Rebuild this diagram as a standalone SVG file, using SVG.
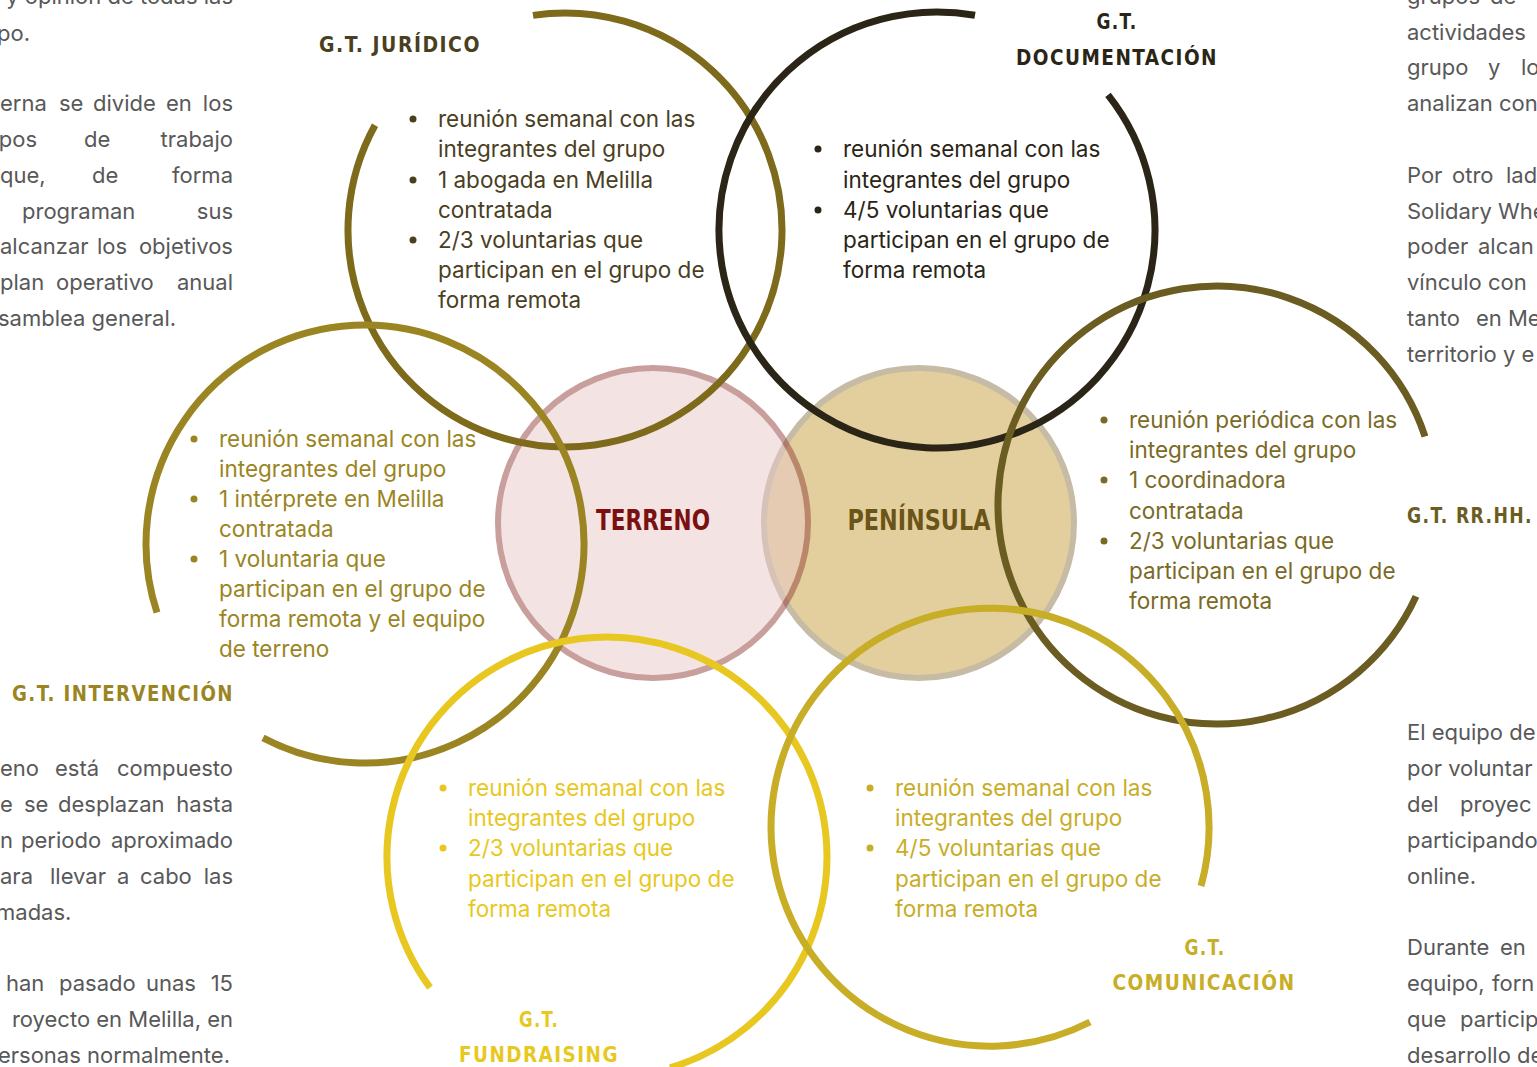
<svg xmlns="http://www.w3.org/2000/svg" width="1537" height="1067" viewBox="0 0 1537 1067">
<style>
.p{font-family:Inter,"Liberation Sans",sans-serif;font-size:22px;fill:#585858}
.e{text-anchor:end}
.b{font-family:Inter,"Liberation Sans",sans-serif;font-size:22.5px}
.t{font-family:"DejaVu Sans Condensed","Liberation Sans Narrow","Liberation Sans",sans-serif;font-weight:bold;font-size:21px;letter-spacing:1.5px}
.c{font-family:"DejaVu Sans Condensed","Liberation Sans Narrow","Liberation Sans",sans-serif;font-weight:bold;font-size:28px}
.ring{fill:none;stroke-width:7}
</style>
<rect width="1537" height="1067" fill="#ffffff"/>

<g id="left-text">
<text class="p e" x="233" y="4">y opinión de todas las</text>
<text class="p" x="-3" y="41">po.</text>
<text class="p" x="0" y="111">erna</text><text class="p" x="59" y="111">se</text><text class="p" x="93" y="111">divide</text><text class="p" x="166" y="111">en</text><text class="p e" x="233" y="111">los</text>
<text class="p e" x="37" y="147">pos</text><text class="p" x="84" y="147">de</text><text class="p e" x="233" y="147">trabajo</text>
<text class="p" x="0" y="183">que,</text><text class="p" x="92" y="183">de</text><text class="p e" x="233" y="183">forma</text>
<text class="p" x="22" y="219">programan</text><text class="p e" x="233" y="219">sus</text>
<text class="p" x="0" y="254">alcanzar</text><text class="p" x="97" y="254">los</text><text class="p e" x="233" y="254">objetivos</text>
<text class="p" x="0" y="290">plan</text><text class="p" x="56" y="290">operativo</text><text class="p e" x="233" y="290">anual</text>
<text class="p" x="-2" y="326">samblea general.</text>
<text class="p" x="0" y="776">eno</text><text class="p" x="55" y="776">está</text><text class="p e" x="233" y="776">compuesto</text>
<text class="p" x="0" y="812">e</text><text class="p" x="24" y="812">se</text><text class="p" x="58" y="812">desplazan</text><text class="p e" x="233" y="812">hasta</text>
<text class="p" x="0" y="848">n</text><text class="p" x="21" y="848">periodo</text><text class="p e" x="233" y="848">aproximado</text>
<text class="p" x="0" y="884">ara</text><text class="p" x="50" y="884">llevar</text><text class="p" x="117" y="884">a</text><text class="p" x="140" y="884">cabo</text><text class="p e" x="233" y="884">las</text>
<text class="p" x="-4" y="920">madas.</text>
<text class="p" x="6" y="991">han</text><text class="p" x="59" y="991">pasado</text><text class="p" x="146" y="991">unas</text><text class="p e" x="233" y="991">15</text>
<text class="p e" x="233" y="1027">royecto en Melilla, en</text>
<text class="p e" x="230" y="1063">ersonas normalmente.</text>
</g>

<g id="right-text">
<text class="p" x="1407" y="4">grupos</text><text class="p" x="1490" y="4">de</text>
<text class="p" x="1407" y="40">actividades</text>
<text class="p" x="1407" y="75">grupo</text><text class="p" x="1488" y="75">y</text><text class="p" x="1521" y="75">lo</text>
<text class="p" x="1407" y="111">analizan con</text>
<text class="p" x="1407" y="183">Por</text><text class="p" x="1452" y="183">otro</text><text class="p" x="1506" y="183">lad</text>
<text class="p" x="1407" y="219">Solidary Whe</text>
<text class="p" x="1407" y="254">poder</text><text class="p" x="1478" y="254">alcan</text>
<text class="p" x="1407" y="290">vínculo con</text>
<text class="p" x="1407" y="326">tanto</text><text class="p" x="1476" y="326">en</text><text class="p" x="1508" y="326">Me</text>
<text class="p" x="1407" y="362">territorio y e</text>
<text class="p" x="1407" y="740">El equipo de</text>
<text class="p" x="1407" y="776">por voluntar</text>
<text class="p" x="1407" y="812">del</text><text class="p" x="1460" y="812">proyec</text>
<text class="p" x="1407" y="848">participando</text>
<text class="p" x="1407" y="884">online.</text>
<text class="p" x="1407" y="955">Durante</text><text class="p" x="1500" y="955">en</text>
<text class="p" x="1407" y="991">equipo,</text><text class="p" x="1492" y="991">forn</text>
<text class="p" x="1407" y="1027">que</text><text class="p" x="1460" y="1027">particip</text>
<text class="p" x="1407" y="1063">desarrollo de</text>
</g>

<g id="peninsula">
<circle cx="919" cy="523" r="155" fill="#e3cf9d" stroke="#c6bba5" stroke-width="6"/>
<text class="c" x="919" y="530" text-anchor="middle" fill="#6b5418" textLength="143" lengthAdjust="spacingAndGlyphs">PENÍNSULA</text>
</g>
<g id="terreno">
<g opacity="0.5"><circle cx="653" cy="523" r="155" fill="#e9c9c9" stroke="#93413b" stroke-width="6"/></g>
<text class="c" x="653" y="530" text-anchor="middle" fill="#7a1010" textLength="114" lengthAdjust="spacingAndGlyphs">TERRENO</text>
</g>

<g id="connectors">
<path class="ring" stroke="#7d6a1b" d="M 533 15.4 A 217 217 0 1 1 375 125.2"/>
<path class="ring" stroke="#2a2516" d="M 1108 94.8 A 218 218 0 1 1 975 15.3"/>
<path class="ring" stroke="#9a8522" d="M 157 612.5 A 219 219 0 1 1 263 737.8"/>
<path class="ring" stroke="#6b5c22" d="M 1416 596.4 A 219 219 0 1 1 1425 436.5"/>
<path class="ring" stroke="#e8c820" d="M 430 987.7 A 220 220 0 1 1 670 1067.8"/>
<path class="ring" stroke="#c8ad27" d="M 1090 1022 A 219 219 0 1 1 1201 886"/>
</g>

<g id="juridico" fill="#4a3f1f">
<text class="t" x="400" y="52" text-anchor="middle" textLength="162" lengthAdjust="spacingAndGlyphs">G.T. JURÍDICO</text>
<circle cx="413" cy="119" r="3.5"/><circle cx="413" cy="180" r="3.5"/><circle cx="413" cy="240" r="3.5"/>
<text class="b" x="438" y="127">reunión semanal con las</text>
<text class="b" x="438" y="157">integrantes del grupo</text>
<text class="b" x="438" y="188">1 abogada en Melilla</text>
<text class="b" x="438" y="218">contratada</text>
<text class="b" x="438" y="248">2/3 voluntarias que</text>
<text class="b" x="438" y="278">participan en el grupo de</text>
<text class="b" x="438" y="308">forma remota</text>
</g>

<g id="documentacion" fill="#2a2516">
<text class="t" x="1117" y="29" text-anchor="middle" textLength="41" lengthAdjust="spacingAndGlyphs">G.T.</text>
<text class="t" x="1117" y="65" text-anchor="middle" textLength="202" lengthAdjust="spacingAndGlyphs">DOCUMENTACIÓN</text>
<circle cx="818" cy="149" r="3.5"/><circle cx="818" cy="210" r="3.5"/>
<text class="b" x="843" y="157">reunión semanal con las</text>
<text class="b" x="843" y="188">integrantes del grupo</text>
<text class="b" x="843" y="218">4/5 voluntarias que</text>
<text class="b" x="843" y="248">participan en el grupo de</text>
<text class="b" x="843" y="278">forma remota</text>
</g>

<g id="intervencion" fill="#9a8522">
<text class="t" x="123" y="701" text-anchor="middle" textLength="222" lengthAdjust="spacingAndGlyphs">G.T. INTERVENCIÓN</text>
<circle cx="194" cy="439" r="3.5"/><circle cx="194" cy="499" r="3.5"/><circle cx="194" cy="559" r="3.5"/>
<text class="b" x="219" y="447">reunión semanal con las</text>
<text class="b" x="219" y="477">integrantes del grupo</text>
<text class="b" x="219" y="507">1 intérprete en Melilla</text>
<text class="b" x="219" y="537">contratada</text>
<text class="b" x="219" y="567">1 voluntaria que</text>
<text class="b" x="219" y="597">participan en el grupo de</text>
<text class="b" x="219" y="627">forma remota y el equipo</text>
<text class="b" x="219" y="657">de terreno</text>
</g>

<g id="rrhh" fill="#7a6a25">
<text class="t" x="1470" y="523" text-anchor="middle" textLength="126" lengthAdjust="spacingAndGlyphs" fill="#6b5c22">G.T. RR.HH.</text>
<circle cx="1104" cy="420" r="3.5"/><circle cx="1104" cy="480" r="3.5"/><circle cx="1104" cy="541" r="3.5"/>
<text class="b" x="1129" y="428">reunión periódica con las</text>
<text class="b" x="1129" y="458">integrantes del grupo</text>
<text class="b" x="1129" y="488">1 coordinadora</text>
<text class="b" x="1129" y="519">contratada</text>
<text class="b" x="1129" y="549">2/3 voluntarias que</text>
<text class="b" x="1129" y="579">participan en el grupo de</text>
<text class="b" x="1129" y="609">forma remota</text>
</g>

<g id="fundraising" fill="#e8c820">
<text class="t" x="539" y="1027" text-anchor="middle" textLength="40" lengthAdjust="spacingAndGlyphs">G.T.</text>
<text class="t" x="539" y="1062" text-anchor="middle" textLength="160" lengthAdjust="spacingAndGlyphs">FUNDRAISING</text>
<circle cx="443" cy="788" r="3.5"/><circle cx="443" cy="848" r="3.5"/>
<text class="b" x="468" y="796">reunión semanal con las</text>
<text class="b" x="468" y="826">integrantes del grupo</text>
<text class="b" x="468" y="856">2/3 voluntarias que</text>
<text class="b" x="468" y="887">participan en el grupo de</text>
<text class="b" x="468" y="917">forma remota</text>
</g>

<g id="comunicacion" fill="#c8ad27">
<text class="t" x="1205" y="955" text-anchor="middle" textLength="41" lengthAdjust="spacingAndGlyphs">G.T.</text>
<text class="t" x="1204" y="990" text-anchor="middle" textLength="183" lengthAdjust="spacingAndGlyphs">COMUNICACIÓN</text>
<circle cx="870" cy="788" r="3.5"/><circle cx="870" cy="848" r="3.5"/>
<text class="b" x="895" y="796">reunión semanal con las</text>
<text class="b" x="895" y="826">integrantes del grupo</text>
<text class="b" x="895" y="856">4/5 voluntarias que</text>
<text class="b" x="895" y="887">participan en el grupo de</text>
<text class="b" x="895" y="917">forma remota</text>
</g>
</svg>
